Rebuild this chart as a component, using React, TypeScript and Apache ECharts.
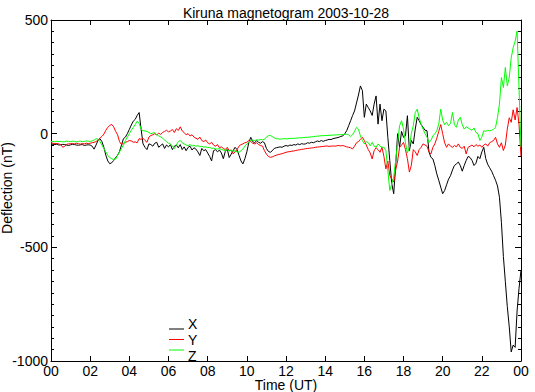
import React, { useEffect, useRef } from "react";
import * as echarts from "echarts";

// Sampling grid: hours 0.0 .. 24.0, step 0.1 h
const hours: number[] = Array.from({ length: 241 }, (_, i) => Math.round(i) / 10);

const xTickLabels = ["00", "02", "04", "06", "08", "10", "12", "14", "16", "18", "20", "22", "00"];

const seriesNames = ["X", "Y", "Z"];
const seriesColors = ["#000000", "#ff0000", "#00ff00"];

// X component (nT)
const compX: number[] = [
  -45, -47, -48, -46, -50, -49, -47, -48, -50, -52,
  -49, -47, -48, -50, -51, -49, -48, -52, -50, -49,
  -50, -55, -68, -50, -30, -22, -35, -60, -95, -120,
  -132, -128, -118, -105, -95, -78, -50, -22, -15, 0,
  19, 38, 55, 63, 80, 93, 20, -45, -60, -70,
  -45, -48, -55, -42, -38, -60, -52, -45, -65, -50,
  -58, -48, -70, -55, -50, -62, -48, -70, -58, -75,
  -60, -55, -72, -62, -68, -80, -96, -65, -75, -70,
  -85, -100, -120, -75, -70, -80, -72, -85, -110, -78,
  -68, -105, -90, -75, -60, -70, -95, -120, -133, -110,
  -80, -40, -16, -35, -40, -30, -38, -42, -35, -40,
  -65, -78, -82, -75, -65, -62, -60, -58, -60, -55,
  -52, -55, -50, -52, -48, -50, -45, -48, -44, -46,
  -45, -40, -42, -38, -40, -36, -32, -35, -30, -34,
  -30, -28, -25, -26, -22, -20, -18, -16, -12, -10,
  0, 13, 35, 57, 80, 100, 135, 170, 210, 190,
  72, 130, 115, 100, 80, 130, 166, 42, 130, 57,
  108, 100, -16, -118, -220, -264, -140, 0, -60, 10,
  -16, -10, 79, -74, -30, -45, 20, 72, 57, 40,
  28, 15, 13, -80, -104, -111, -140, -177, -205, -235,
  -264, -250, -225, -200, -185, -160, -140, -133, -125, -140,
  -165, -140, -118, -100, -105, -118, -140, -130, -100, -110,
  -80, -60, -110, -135, -150, -165, -185, -205, -230, -280,
  -390, -540, -650, -760, -850, -960, -930, -940, -780, -680,
  -600,
];

// Y component (nT)
const compY: number[] = [
  -40, -42, -44, -43, -45, -48, -60, -55, -47, -45,
  -44, -43, -45, -42, -44, -46, -43, -45, -42, -44,
  -42, -40, -38, -35, -28, -20, -12, -2, 15, 28,
  36, 41, 30, 10, -5, -35, -48, -42, -38, -35,
  -30, -32, -38, -36, -40, -22, -25, -20, -30, -38,
  -15, -8, -5, 0, -5, 2, -3, 5, 10, 15,
  8, 12, 18, 5, 22, 14, 30, 12, 5, -5,
  0, -10, -5, -15, -20, -25, -15, -30, -35, -28,
  -40, -45, -38, -50, -55, -48, -62, -58, -65, -70,
  -60, -75, -72, -89, -80, -70, -55, -48, -45, -40,
  -38, -30, -35, -42, -45, -40, -48, -52, -55, -75,
  -90, -100, -104, -102, -98, -95, -92, -90, -88, -85,
  -82, -80, -79, -77, -76, -74, -72, -71, -69, -68,
  -66, -65, -64, -63, -62, -60, -59, -58, -57, -56,
  -55, -54, -56, -55, -54, -55, -53, -52, -54, -52,
  -55, -58, -60, -62, -67, -55, -40, -35, -25, -16,
  -30, -50, -70, -85, -111, -75, -62, -70, -82, -60,
  -100, -155, -120, -184, -200, -213, -160, -120, -60, -50,
  -38, -70, -110, -169, -140, -70, -80, -96, -70, -60,
  -45, -50, -55, -80, -89, -60, -45, -20, 10, 40,
  0, -40, -60, -45, -55, -60, -52, -58, -45, -60,
  -65, -55, -89, -60, -55, -50, -58, -48, -55, -50,
  -60, -50, -45, -55, -40, -35, -30, -16, -45, -60,
  -40, -74, -50, 20, 70, 50, 105, 60, 115, 40,
  -100,
];

// Z component (nT)
const compZ: number[] = [
  -35, -34, -36, -33, -35, -34, -36, -35, -33, -34,
  -35, -33, -34, -36, -34, -33, -35, -34, -32, -33,
  -34, -32, -28, -22, -25, -35, -50, -65, -80, -95,
  -105, -110, -114, -112, -95, -80, -65, -50, -30, -15,
  0, 15, 27, 40, 55, 45, 20, 13, 12, 10,
  5, 0, 3, 4, -5, -10, -14, -20, -28, -35,
  -42, -45, -55, -65, -50, -35, -30, -40, -45, -50,
  -52, -48, -55, -50, -56, -52, -58, -55, -60, -57,
  -62, -60, -65, -63, -67, -68, -65, -70, -72, -74,
  -70, -76, -72, -78, -75, -80, -82, -75, -67, -55,
  -45, -38, -30, -28, -30, -27, -28, -26, -27, -25,
  -15, -9, -8, -13, -18, -22, -23, -24, -23, -22,
  -23, -22, -21, -20, -21, -20, -19, -18, -18, -17,
  -16, -16, -15, -14, -13, -12, -11, -10, -9, -9,
  -8, -8, -7, -7, -6, -6, -5, -5, -4, -4,
  -3, -2, -5, -12, -5, 10, 28, 20, -10, -30,
  -45, -35, -40, -53, -38, -55, -60, -45, -55, -60,
  -60, -74, -162, -250, -220, -191, -118, -40, 35, 57,
  20, -40, -85, -60, 0, 35, 93, 108, 70, 40,
  20, 0, -15, -38, -30, -10, 0, 13, 42, 108,
  60, 40, 50, 35, 45, 93, 40, 28, 60, 72,
  40, 20, 30, 25, 20, 15, 25, 5, 0, -30,
  -15, 13, 10, 15, 12, 15, 20, 28, 72, 130,
  247, 203, 291, 210, 247, 334, 378, 407, 451, 200,
  -60,
];

const components = [compX, compY, compZ];

const TITLE = "Kiruna magnetogram 2003-10-28";
const X_NAME = "Time (UT)";
const Y_NAME = "Deflection (nT)";
const FONT = "Liberation Sans";

export default function App() {
  const ref = useRef<HTMLDivElement>(null);

  useEffect(() => {
    document.body.style.margin = "0";
    if (!ref.current) return;
    const chart = echarts.init(ref.current, undefined, { renderer: "svg" });

    const axisLine = { show: true, onZero: false, lineStyle: { color: "#000", width: 1 } };
    const tickStyle = { color: "#000", width: 1 };
    const textStyleOf = (text: string, align: string) => ({
      text,
      fill: "#000",
      font: `14px "${FONT}"`,
      lineHeight: 10,
      textAlign: align,
      textVerticalAlign: "middle",
    });

    const legendItems: any[] = [];
    const lineYs = [329, 339.5, 350];
    const textYs = [324, 340, 355.5];
    seriesNames.forEach((n, i) => {
      legendItems.push({
        type: "line",
        shape: { x1: 169, y1: lineYs[i], x2: 184, y2: lineYs[i] },
        style: { stroke: seriesColors[i], lineWidth: 1 },
      });
      legendItems.push({ type: "text", x: 188, y: textYs[i], style: textStyleOf(n, "left") });
    });

    chart.setOption({
      animation: false,
      textStyle: { fontFamily: FONT, fontSize: 14, color: "#000" },
      title: {
        text: TITLE,
        left: 286,
        top: 6,
        padding: 0,
        textAlign: "center",
        textStyle: { fontFamily: FONT, fontSize: 14, fontWeight: "normal", color: "#000" },
      },
      grid: { left: 51, top: 20, right: 14, bottom: 31, containLabel: false, outerBoundsMode: "none" },
      xAxis: [
        {
          type: "value",
          min: 0,
          max: 24,
          interval: 2,
          position: "bottom",
          axisLine,
          axisTick: { show: true, inside: true, length: 5, lineStyle: tickStyle },
          axisLabel: {
            show: true,
            margin: 5,
            fontFamily: FONT,
            fontSize: 14,
            lineHeight: 10,
            color: "#000",
            formatter: (v: number) => xTickLabels[Math.round(v / 2)] ?? "",
          },
          splitLine: { show: false },
        },
        {
          type: "value",
          min: 0,
          max: 24,
          interval: 2,
          position: "top",
          axisLine,
          axisTick: { show: true, inside: true, length: 5, lineStyle: tickStyle },
          axisLabel: { show: false },
          splitLine: { show: false },
        },
      ],
      yAxis: [
        {
          type: "value",
          min: -1000,
          max: 500,
          interval: 500,
          position: "left",
          axisLine,
          axisTick: { show: true, inside: true, length: 6, lineStyle: tickStyle },
          minorTick: { show: true, splitNumber: 10, length: 3, lineStyle: tickStyle },
          axisLabel: {
            show: true,
            margin: 3,
            fontFamily: FONT,
            fontSize: 14,
            lineHeight: 10,
            color: "#000",
            formatter: (v: number) => String(v),
          },
          splitLine: { show: false },
          minorSplitLine: { show: false },
        },
        {
          type: "value",
          min: -1000,
          max: 500,
          interval: 500,
          position: "right",
          axisLine,
          axisTick: { show: true, inside: true, length: 6, lineStyle: tickStyle },
          minorTick: { show: true, splitNumber: 10, length: 3, lineStyle: tickStyle },
          axisLabel: { show: false },
          splitLine: { show: false },
          minorSplitLine: { show: false },
        },
      ],
      series: components.map((vals, i) => ({
        name: seriesNames[i],
        type: "line",
        xAxisIndex: 0,
        yAxisIndex: 0,
        showSymbol: false,
        symbol: "none",
        clip: true,
        lineStyle: { color: seriesColors[i], width: 1 },
        itemStyle: { color: seriesColors[i] },
        data: hours.map((h, k) => [h, vals[k]]),
      })),
      graphic: [
        { type: "text", x: 286, y: 385, style: textStyleOf(X_NAME, "center") },
        { type: "text", x: 7, y: 188, rotation: Math.PI / 2, style: textStyleOf(Y_NAME, "center") },
        ...legendItems,
      ],
    });

    return () => chart.dispose();
  }, []);

  return <div ref={ref} style={{ width: 535, height: 392 }} />;
}
